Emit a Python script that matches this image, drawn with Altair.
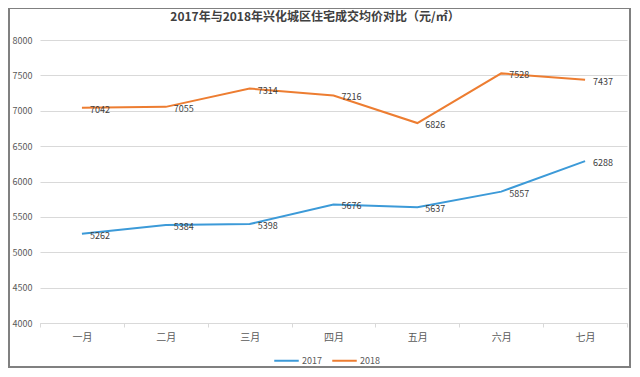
import altair as alt
import pandas as pd

months = ["一月", "二月", "三月", "四月", "五月", "六月", "七月"]
series_names = ["2017", "2018"]
values_2017 = [5262, 5384, 5398, 5676, 5637, 5857, 6288]
values_2018 = [7042, 7055, 7314, 7216, 6826, 7528, 7437]
y_ticks = [4000, 4500, 5000, 5500, 6000, 6500, 7000, 7500, 8000]
colors = ["#3C9AD8", "#ED7D31"]
title_text = "2017年与2018年兴化城区住宅成交均价对比（元/㎡）"

rows = []
for name, vals in zip(series_names, [values_2017, values_2018]):
    for m, v in zip(months, vals):
        rows.append({"month": m, "series": name, "value": v})
df = pd.DataFrame(rows)

FONT = "Noto Sans CJK SC"

x_enc = alt.X(
    "month:N",
    sort=months,
    bandPosition=0.5,
    scale=alt.Scale(type="band", paddingInner=0, paddingOuter=0),
    axis=alt.Axis(
        title=None, labelAngle=0, labelFont=FONT, labelFontSize=10,
        labelColor="#595959", domainColor="#D9D9D9", tickColor="#D9D9D9",
        tickSize=4, tickBand="extent", labelPadding=5, grid=False,
    ),
)
y_enc = alt.Y(
    "value:Q",
    scale=alt.Scale(domain=[4000, 8000], nice=False, zero=False),
    axis=alt.Axis(
        title=None, values=y_ticks, format="d", labelFont=FONT, labelFontSize=9,
        labelColor="#595959", ticks=False, domain=False, labelPadding=8,
        labelOverlap=False, labelFlush=False,
        gridColor="#D9D9D9", gridWidth=1,
    ),
)
color_enc = alt.Color(
    "series:N",
    scale=alt.Scale(domain=series_names, range=colors),
    legend=alt.Legend(
        title=None, orient="none", legendX=233, legendY=307,
        direction="horizontal", symbolType="stroke", symbolSize=600,
        symbolStrokeWidth=2, labelFont=FONT, labelFontSize=9,
        labelColor="#595959", columnPadding=6, labelOffset=2,
    ),
)

base = alt.Chart(df)
lines = base.mark_line(strokeWidth=2).encode(x=x_enc, y=y_enc, color=color_enc)
labels = base.mark_text(
    align="left", baseline="middle", dx=8, dy=2, fontSize=9,
    font=FONT, color="#404040",
).encode(x=x_enc, y=y_enc, text="value:Q")

one = pd.DataFrame({"a": [0]})
frame = alt.Chart(one).mark_rect(
    fillOpacity=0, stroke="#808080", strokeWidth=2
).encode(
    x=alt.value(-31), x2=alt.value(590), y=alt.value(-32), y2=alt.value(327)
)
title = alt.Chart(one).mark_text(
    align="center", baseline="middle", fontSize=12, fontWeight="bold",
    font=FONT, color="#404040",
).encode(x=alt.value(275), y=alt.value(-23), text=alt.value(title_text))

chart = alt.layer(frame, lines, labels, title).properties(
    width=587,
    height=283,
    padding={"left": 32, "top": 32, "right": 5, "bottom": 46},
    autosize=alt.AutoSizeParams(type="none"),
).configure_view(stroke=None)

chart.save("out.html", embed_options={"renderer": "svg", "actions": False})
